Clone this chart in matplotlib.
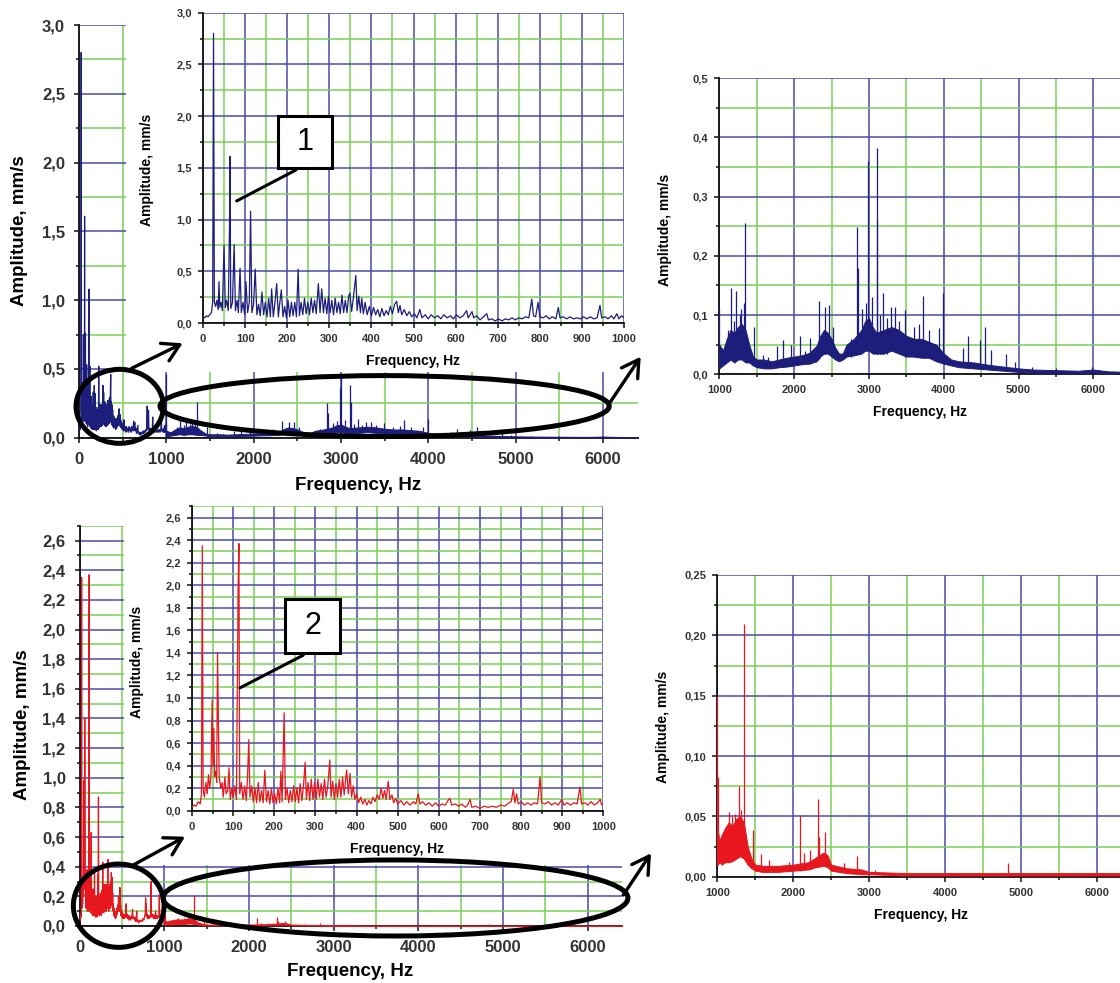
import matplotlib
matplotlib.use("Agg")
import matplotlib.pyplot as plt
from matplotlib.ticker import MultipleLocator, FuncFormatter
from matplotlib.patches import Ellipse, Rectangle, FancyArrowPatch
from matplotlib.transforms import Affine2D

plt.rcParams['font.family'] = ['Liberation Sans', 'DejaVu Sans']

# ---- spectrum 1 (blue), 0-1000 Hz ----
blue_low_f = [0, 4, 8, 12, 16, 20, 23, 25, 27, 30,
              33, 36, 38, 40, 43, 46, 50, 53, 56, 60,
              63, 64, 66, 70, 74, 77, 81, 84, 88, 91,
              95, 99, 102, 106, 110, 113, 116, 120, 124, 128,
              132, 136, 140, 144, 148, 152, 156, 160, 163, 167,
              171, 175, 179, 182, 186, 190, 194, 198, 202, 206,
              210, 214, 218, 222, 226, 229, 233, 237, 241, 245,
              249, 253, 257, 261, 265, 269, 274, 278, 282, 286,
              290, 294, 298, 302, 306, 310, 314, 318, 322, 326,
              330, 334, 338, 342, 346, 349, 353, 357, 363, 366,
              370, 374, 377, 381, 385, 390, 395, 400, 405, 410,
              415, 420, 425, 430, 435, 440, 445, 450, 455, 460,
              464, 468, 472, 478, 484, 490, 496, 502, 508, 515,
              520, 528, 535, 542, 550, 558, 565, 572, 580, 588,
              595, 602, 610, 618, 626, 630, 639, 643, 650, 658,
              666, 674, 678, 686, 694, 702, 710, 718, 726, 734,
              742, 750, 758, 766, 774, 781, 785, 790, 796, 800,
              808, 815, 822, 830, 838, 844, 848, 856, 864, 872,
              880, 888, 896, 904, 912, 920, 928, 936, 943, 947,
              955, 962, 970, 976, 983, 988, 994, 1000]
blue_low_a = [0.06, 0.05, 0.07, 0.06, 0.08, 0.10, 0.20, 2.80, 0.20, 0.16,
              0.22, 0.13, 0.40, 0.15, 0.20, 0.12, 0.75, 0.15, 0.22, 0.12,
              0.95, 1.61, 0.14, 0.20, 0.76, 0.12, 0.22, 0.10, 0.53, 0.10,
              0.20, 0.08, 0.40, 0.10, 0.20, 1.08, 0.10, 0.18, 0.52, 0.08,
              0.18, 0.07, 0.30, 0.08, 0.20, 0.06, 0.24, 0.06, 0.33, 0.06,
              0.20, 0.38, 0.06, 0.18, 0.32, 0.06, 0.16, 0.05, 0.22, 0.06,
              0.20, 0.07, 0.20, 0.06, 0.52, 0.07, 0.20, 0.08, 0.24, 0.09,
              0.20, 0.08, 0.24, 0.10, 0.22, 0.09, 0.38, 0.10, 0.33, 0.10,
              0.24, 0.09, 0.26, 0.10, 0.22, 0.08, 0.24, 0.10, 0.20, 0.09,
              0.27, 0.10, 0.22, 0.10, 0.26, 0.29, 0.11, 0.24, 0.46, 0.12,
              0.26, 0.10, 0.24, 0.09, 0.20, 0.08, 0.16, 0.07, 0.15, 0.08,
              0.13, 0.06, 0.14, 0.07, 0.12, 0.08, 0.16, 0.09, 0.18, 0.21,
              0.10, 0.17, 0.08, 0.13, 0.07, 0.11, 0.06, 0.09, 0.05, 0.13,
              0.05, 0.08, 0.04, 0.08, 0.05, 0.07, 0.04, 0.08, 0.05, 0.07,
              0.04, 0.08, 0.05, 0.07, 0.12, 0.05, 0.11, 0.05, 0.07, 0.03,
              0.06, 0.09, 0.03, 0.04, 0.02, 0.04, 0.02, 0.04, 0.03, 0.05,
              0.03, 0.05, 0.04, 0.06, 0.05, 0.23, 0.07, 0.06, 0.20, 0.06,
              0.05, 0.07, 0.04, 0.06, 0.04, 0.15, 0.05, 0.06, 0.04, 0.06,
              0.04, 0.05, 0.04, 0.06, 0.04, 0.06, 0.04, 0.05, 0.17, 0.05,
              0.06, 0.04, 0.07, 0.04, 0.09, 0.04, 0.07, 0.05]

# spectrum 1, 1000-6400 Hz (upper right panel): noise band + discrete peaks
blue_band_f = [1000, 1050, 1100, 1150, 1200, 1250, 1300, 1350, 1400, 1450,
               1500, 1600, 1700, 1800, 1900, 2000, 2100, 2200, 2300, 2350,
               2400, 2450, 2500, 2550, 2600, 2650, 2700, 2800, 2900, 2950,
               3000, 3050, 3100, 3200, 3300, 3400, 3500, 3600, 3700, 3800,
               3900, 4000, 4100, 4200, 4400, 4600, 4800, 5000, 5200, 5500,
               5800, 6000, 6200, 6500]
blue_band_lo = [0.010, 0.015, 0.020, 0.025, 0.020, 0.025, 0.025, 0.020, 0.020, 0.015,
                0.012, 0.010, 0.010, 0.012, 0.013, 0.015, 0.017, 0.018, 0.022, 0.030,
                0.035, 0.035, 0.030, 0.025, 0.022, 0.025, 0.030, 0.032, 0.035, 0.040,
                0.040, 0.035, 0.035, 0.035, 0.040, 0.035, 0.030, 0.030, 0.028, 0.028,
                0.022, 0.018, 0.015, 0.012, 0.010, 0.008, 0.006, 0.004, 0.003, 0.002,
                0.002, 0.003, 0.002, 0.001]
blue_band_hi = [0.050, 0.040, 0.060, 0.075, 0.070, 0.080, 0.085, 0.075, 0.050, 0.030,
                0.025, 0.025, 0.022, 0.025, 0.028, 0.030, 0.032, 0.036, 0.048, 0.065,
                0.075, 0.070, 0.060, 0.045, 0.035, 0.035, 0.050, 0.060, 0.075, 0.090,
                0.095, 0.080, 0.070, 0.075, 0.080, 0.075, 0.065, 0.060, 0.060, 0.055,
                0.050, 0.035, 0.025, 0.022, 0.020, 0.016, 0.013, 0.010, 0.008, 0.007,
                0.006, 0.008, 0.005, 0.004]
blue_peak_f = [1000, 1040, 1120, 1160, 1200, 1228, 1270, 1295, 1325, 1348,
               1470, 1580, 1650, 1771, 1852, 1958, 2083, 2150, 2217, 2328,
               2408, 2462, 2516, 2760, 2841, 2850, 2910, 2958, 2992, 3040,
               3104, 3110, 3150, 3190, 3240, 3291, 3345, 3400, 3487, 3600,
               3670, 3719, 3800, 3933, 3991, 4254, 4325, 4481, 4557, 4637,
               4838, 4949, 5180, 5500, 5983]
blue_peak_lo = [0.010, 0.020, 0.030, 0.030, 0.030, 0.030, 0.030, 0.030, 0.030, 0.030,
                0.015, 0.012, 0.010, 0.012, 0.012, 0.014, 0.017, 0.017, 0.018, 0.025,
                0.035, 0.035, 0.030, 0.030, 0.035, 0.035, 0.040, 0.040, 0.040, 0.040,
                0.035, 0.035, 0.035, 0.035, 0.035, 0.040, 0.040, 0.040, 0.030, 0.030,
                0.030, 0.030, 0.028, 0.022, 0.020, 0.012, 0.011, 0.010, 0.009, 0.008,
                0.006, 0.005, 0.003, 0.002, 0.003]
blue_peak_hi = [0.110, 0.045, 0.075, 0.145, 0.090, 0.140, 0.100, 0.110, 0.120, 0.256,
                0.080, 0.032, 0.030, 0.047, 0.058, 0.050, 0.064, 0.040, 0.061, 0.123,
                0.113, 0.117, 0.080, 0.060, 0.249, 0.179, 0.110, 0.120, 0.360, 0.131,
                0.383, 0.262, 0.100, 0.137, 0.095, 0.114, 0.114, 0.090, 0.109, 0.080,
                0.085, 0.132, 0.075, 0.078, 0.138, 0.044, 0.064, 0.058, 0.080, 0.041,
                0.035, 0.021, 0.012, 0.010, 0.013]
# peaks that reach higher in the full-range (left) plot
blue_main_peak_f = [993, 2997]
blue_main_peak_a = [0.46, 0.46]

# ---- spectrum 2 (red), 0-1000 Hz ----
red_low_f = [0, 5, 10, 15, 20, 23, 25, 27, 30, 34,
             37, 40, 43, 46, 49, 51, 53, 55, 58, 60,
             62, 64, 66, 70, 73, 76, 80, 83, 87, 90,
             93, 97, 100, 104, 108, 112, 114, 116, 120, 124,
             128, 132, 135, 138, 141, 145, 149, 153, 157, 161,
             165, 169, 173, 177, 181, 185, 189, 193, 197, 201,
             205, 209, 213, 216, 219, 224, 227, 231, 235, 239,
             243, 247, 251, 255, 259, 263, 267, 271, 275, 278,
             282, 286, 290, 294, 298, 302, 306, 310, 314, 318,
             322, 326, 330, 335, 338, 342, 346, 350, 354, 358,
             362, 366, 370, 374, 376, 380, 384, 388, 392, 396,
             400, 405, 410, 415, 420, 425, 430, 435, 440, 445,
             450, 455, 460, 464, 468, 472, 477, 481, 486, 490,
             495, 500, 508, 515, 522, 530, 538, 544, 550, 554,
             560, 568, 576, 584, 592, 600, 608, 616, 622, 627,
             631, 640, 648, 656, 664, 670, 676, 680, 690, 700,
             710, 720, 730, 740, 750, 760, 770, 776, 781, 785,
             789, 793, 800, 808, 816, 824, 832, 840, 846, 850,
             858, 866, 874, 882, 890, 899, 904, 912, 920, 928,
             936, 943, 947, 955, 962, 970, 978, 986, 992, 996,
             1000]
red_low_a = [0.03, 0.05, 0.04, 0.08, 0.06, 0.15, 2.35, 0.20, 0.12, 0.25,
             0.15, 0.32, 0.20, 0.30, 0.98, 0.40, 0.73, 0.30, 0.35, 0.25,
             1.40, 0.88, 0.30, 0.20, 0.25, 0.12, 0.30, 0.15, 0.18, 0.38,
             0.10, 0.20, 0.12, 0.22, 0.10, 1.95, 2.37, 0.15, 0.25, 0.10,
             0.22, 0.09, 0.30, 0.63, 0.12, 0.22, 0.08, 0.20, 0.07, 0.25,
             0.08, 0.18, 0.07, 0.36, 0.08, 0.18, 0.06, 0.20, 0.07, 0.15,
             0.06, 0.20, 0.07, 0.35, 0.08, 0.87, 0.10, 0.20, 0.07, 0.18,
             0.08, 0.22, 0.08, 0.20, 0.07, 0.24, 0.09, 0.22, 0.43, 0.10,
             0.25, 0.09, 0.28, 0.10, 0.25, 0.10, 0.28, 0.12, 0.24, 0.10,
             0.28, 0.12, 0.22, 0.45, 0.12, 0.26, 0.10, 0.24, 0.12, 0.28,
             0.12, 0.30, 0.14, 0.30, 0.36, 0.15, 0.33, 0.12, 0.22, 0.10,
             0.15, 0.07, 0.12, 0.06, 0.10, 0.05, 0.09, 0.06, 0.12, 0.08,
             0.14, 0.10, 0.20, 0.11, 0.18, 0.10, 0.26, 0.10, 0.14, 0.07,
             0.11, 0.06, 0.09, 0.05, 0.08, 0.05, 0.08, 0.06, 0.15, 0.06,
             0.08, 0.05, 0.07, 0.04, 0.07, 0.04, 0.06, 0.05, 0.09, 0.11,
             0.05, 0.06, 0.04, 0.06, 0.03, 0.05, 0.10, 0.03, 0.04, 0.02,
             0.04, 0.03, 0.04, 0.03, 0.05, 0.04, 0.07, 0.08, 0.19, 0.07,
             0.15, 0.06, 0.08, 0.05, 0.07, 0.05, 0.07, 0.06, 0.30, 0.07,
             0.06, 0.08, 0.05, 0.07, 0.05, 0.10, 0.05, 0.07, 0.05, 0.07,
             0.06, 0.21, 0.06, 0.07, 0.05, 0.08, 0.05, 0.07, 0.10, 0.05,
             0.06]

# spectrum 2, 1000-6400 Hz (lower right panel)
red_band_f = [1000, 1030, 1060, 1100, 1150, 1200, 1250, 1300, 1350, 1400,
              1450, 1500, 1600, 1800, 2000, 2200, 2300, 2400, 2450, 2500,
              2700, 2900, 3000, 3500, 4000, 5000, 6500]
red_band_lo = [0.010, 0.012, 0.010, 0.012, 0.012, 0.013, 0.015, 0.017, 0.015, 0.010,
               0.007, 0.005, 0.004, 0.004, 0.005, 0.006, 0.008, 0.009, 0.008, 0.005,
               0.003, 0.002, 0.002, 0.001, 0.001, 0.001, 0.001]
red_band_hi = [0.040, 0.030, 0.035, 0.040, 0.045, 0.042, 0.048, 0.050, 0.045, 0.025,
               0.015, 0.010, 0.009, 0.009, 0.010, 0.012, 0.016, 0.020, 0.018, 0.010,
               0.007, 0.006, 0.004, 0.003, 0.003, 0.003, 0.003]
red_peak_f = [1000, 1005, 1100, 1158, 1200, 1230, 1281, 1310, 1347, 1466,
              1580, 1685, 1940, 2094, 2140, 2225, 2327, 2345, 2423, 2665,
              2841, 3082, 3192, 4830]
red_peak_lo = [0.010, 0.010, 0.012, 0.012, 0.013, 0.015, 0.017, 0.017, 0.015, 0.007,
               0.004, 0.004, 0.005, 0.005, 0.006, 0.006, 0.008, 0.008, 0.009, 0.004,
               0.003, 0.002, 0.002, 0.001]
red_peak_hi = [0.149, 0.083, 0.038, 0.054, 0.050, 0.052, 0.075, 0.055, 0.209, 0.039,
               0.019, 0.014, 0.012, 0.051, 0.020, 0.022, 0.064, 0.033, 0.037, 0.011,
               0.017, 0.0055, 0.004, 0.011]

BLUE = "#1d1d7c"
RED = "#e8161d"
GRID_BLUE = "#4a4aae"
GRID_GREEN = "#79cf55"

W, H = 1120, 983
fig = plt.figure(figsize=(W / 100, H / 100), dpi=100)
# pixel coordinates, origin at the top-left corner of the picture
px = Affine2D().scale(1 / W, -1 / H).translate(0, 1) + fig.transFigure


def box(x0, y0, x1, y1):
    return [x0 / W, 1 - y1 / H, (x1 - x0) / W, (y1 - y0) / H]


def comma(dec):
    return FuncFormatter(lambda v, pos: f"{v:.{dec}f}".replace(".", ","))


def setup(ax, xlim, ylim, xstep, ystep, ydec, size, weight, pad):
    ax.set_xlim(xlim)
    ax.set_ylim(ylim)
    ax.xaxis.set_major_locator(MultipleLocator(xstep))
    ax.xaxis.set_minor_locator(MultipleLocator(xstep / 2))
    ax.yaxis.set_major_locator(MultipleLocator(ystep))
    ax.yaxis.set_minor_locator(MultipleLocator(ystep / 2))
    ax.yaxis.set_major_formatter(comma(ydec))
    ax.grid(which="major", color=GRID_BLUE, lw=1.1)
    ax.grid(which="minor", color=GRID_GREEN, lw=1.1)
    ax.set_axisbelow(True)
    for s in ("top", "right"):
        ax.spines[s].set_visible(False)
    for s in ("left", "bottom"):
        ax.spines[s].set_color("#111111")
        ax.spines[s].set_linewidth(1.3)
    ax.tick_params(which="both", direction="out", color="#111111", width=1.1)
    ax.tick_params(which="major", length=3.5, labelsize=size,
                   labelcolor="#333333", pad=pad)
    ax.tick_params(which="minor", length=2)
    for lab in ax.get_xticklabels() + ax.get_yticklabels():
        lab.set_fontweight(weight)


def labels(ax, size, xpos, ypos):
    ax.set_xlabel("Frequency, Hz", fontsize=size, fontweight="bold", va="center")
    ax.set_ylabel("Amplitude, mm/s", fontsize=size, fontweight="bold", va="center")
    ax.xaxis.set_label_coords(*xpos, transform=px)
    ax.yaxis.set_label_coords(*ypos, transform=px)


def draw_low(ax, f, a, color):
    ax.plot(f, a, color=color, lw=0.9, zorder=3)


def draw_high(ax, bf, lo, hi, pf, plo, phi, color):
    ax.fill_between(bf, lo, hi, color=color, lw=0.7, zorder=3)
    ax.vlines(pf, plo, phi, color=color, lw=0.9, zorder=3)


# ---------------- upper row: spectrum 1 ----------------
ax_tm = fig.add_axes(box(79, 25, 638, 437.7))
ax_ti = fig.add_axes(box(203, 12.7, 624, 323), zorder=2)
ax_tr = fig.add_axes(box(719.3, 78.3, 1123.3, 374.3))

# ---------------- lower row: spectrum 2 ----------------
ax_bm = fig.add_axes(box(79.5, 525.8, 621.5, 926))
ax_bi = fig.add_axes(box(192, 506.4, 603.4, 810.7), zorder=2)
ax_br = fig.add_axes(box(717.3, 575, 1127.2, 876.7))

setup(ax_tm, (0, 6400), (0, 3.0), 1000, 0.5, 1, 12, "bold", 6.5)
setup(ax_ti, (0, 1000), (0, 3.0), 100, 0.5, 1, 8, "bold", 4.5)
setup(ax_tr, (1000, 6400), (0, 0.5), 1000, 0.1, 1, 8, "bold", 4.5)
setup(ax_bm, (0, 6400), (0, 2.7), 1000, 0.2, 1, 12, "bold", 6.5)
setup(ax_bi, (0, 1000), (0, 2.7), 100, 0.2, 1, 8, "bold", 4.5)
setup(ax_br, (1000, 6400), (0, 0.25), 1000, 0.05, 2, 8, "bold", 4.5)

labels(ax_tm, 13.5, (358, 485), (20, 231))
labels(ax_ti, 10, (413, 361), (147, 170))
labels(ax_tr, 10, (920, 412), (665, 230))
labels(ax_bm, 13.5, (350, 972), (23, 725))
labels(ax_bi, 10, (397, 849), (137, 662))
labels(ax_br, 10, (921, 915), (663, 727))

# full-range plots: low band from the insets, high band from the right panels
draw_low(ax_tm, blue_low_f, blue_low_a, BLUE)
draw_high(ax_tm, blue_band_f, blue_band_lo, blue_band_hi,
          blue_peak_f, blue_peak_lo, blue_peak_hi, BLUE)
ax_tm.vlines(blue_main_peak_f, 0.03, blue_main_peak_a, color=BLUE, lw=0.9, zorder=3)
draw_low(ax_ti, blue_low_f, blue_low_a, BLUE)
draw_high(ax_tr, blue_band_f, blue_band_lo, blue_band_hi,
          blue_peak_f, blue_peak_lo, blue_peak_hi, BLUE)

draw_low(ax_bm, red_low_f, red_low_a, RED)
draw_high(ax_bm, red_band_f, red_band_lo, red_band_hi,
          red_peak_f, red_peak_lo, red_peak_hi, RED)
draw_low(ax_bi, red_low_f, red_low_a, RED)
draw_high(ax_br, red_band_f, red_band_lo, red_band_hi,
          red_peak_f, red_peak_lo, red_peak_hi, RED)

# white backing behind the insets (hides the main grid there)
fig.add_artist(Rectangle((126, 0), 514, 372, transform=px, facecolor="white",
                         edgecolor="none", zorder=1))
fig.add_artist(Rectangle((124, 498), 516, 367, transform=px, facecolor="white",
                         edgecolor="none", zorder=1))

# zoom ellipses drawn in the full-range plots' data space
for ax, circ, oval in [(ax_tm, (466, 0.228, 1000, 0.538), (3499, 0.230, 5143, 0.443)),
                       (ax_bm, (463, 0.137, 1071, 0.562), (3731, 0.189, 5490, 0.513))]:
    for cx, cy, w, h in (circ, oval):
        fig.add_artist(Ellipse((cx, cy), w, h, transform=ax.transData, fill=False,
                               edgecolor="black", lw=3.6, zorder=3))

for a, b in [((131.7, 368.3), (182.7, 343.3)), ((608.3, 405), (640.7, 356.7)),
             ((133.3, 865), (185, 836.7)), ((623.3, 895), (651, 853.3))]:
    fig.add_artist(FancyArrowPatch(a, b, transform=px, arrowstyle="->,head_length=0.6,head_width=0.35",
                                   mutation_scale=20, lw=2.4, color="black",
                                   shrinkA=0, shrinkB=0, zorder=4))

# numbered callouts in the insets
for ax, rect, txt, start, end, label in [
        (ax_ti, (179, 1.50, 127, 0.50), (243, 1.75), (221, 1.48), (80, 1.18), "1"),
        (ax_bi, (226, 1.40, 134, 0.48), (293, 1.64), (270.5, 1.38), (116.7, 1.09), "2")]:
    ax.add_patch(Rectangle(rect[:2], rect[2], rect[3], facecolor="white",
                           edgecolor="black", lw=2.2, zorder=5))
    ax.text(*txt, label, fontsize=22, ha="center", va="center", zorder=6)
    ax.annotate("", xy=end, xytext=start,
                arrowprops=dict(arrowstyle="-", lw=2.2, color="black",
                                shrinkA=0, shrinkB=0), zorder=5)

fig.savefig("out.png", dpi=100)
